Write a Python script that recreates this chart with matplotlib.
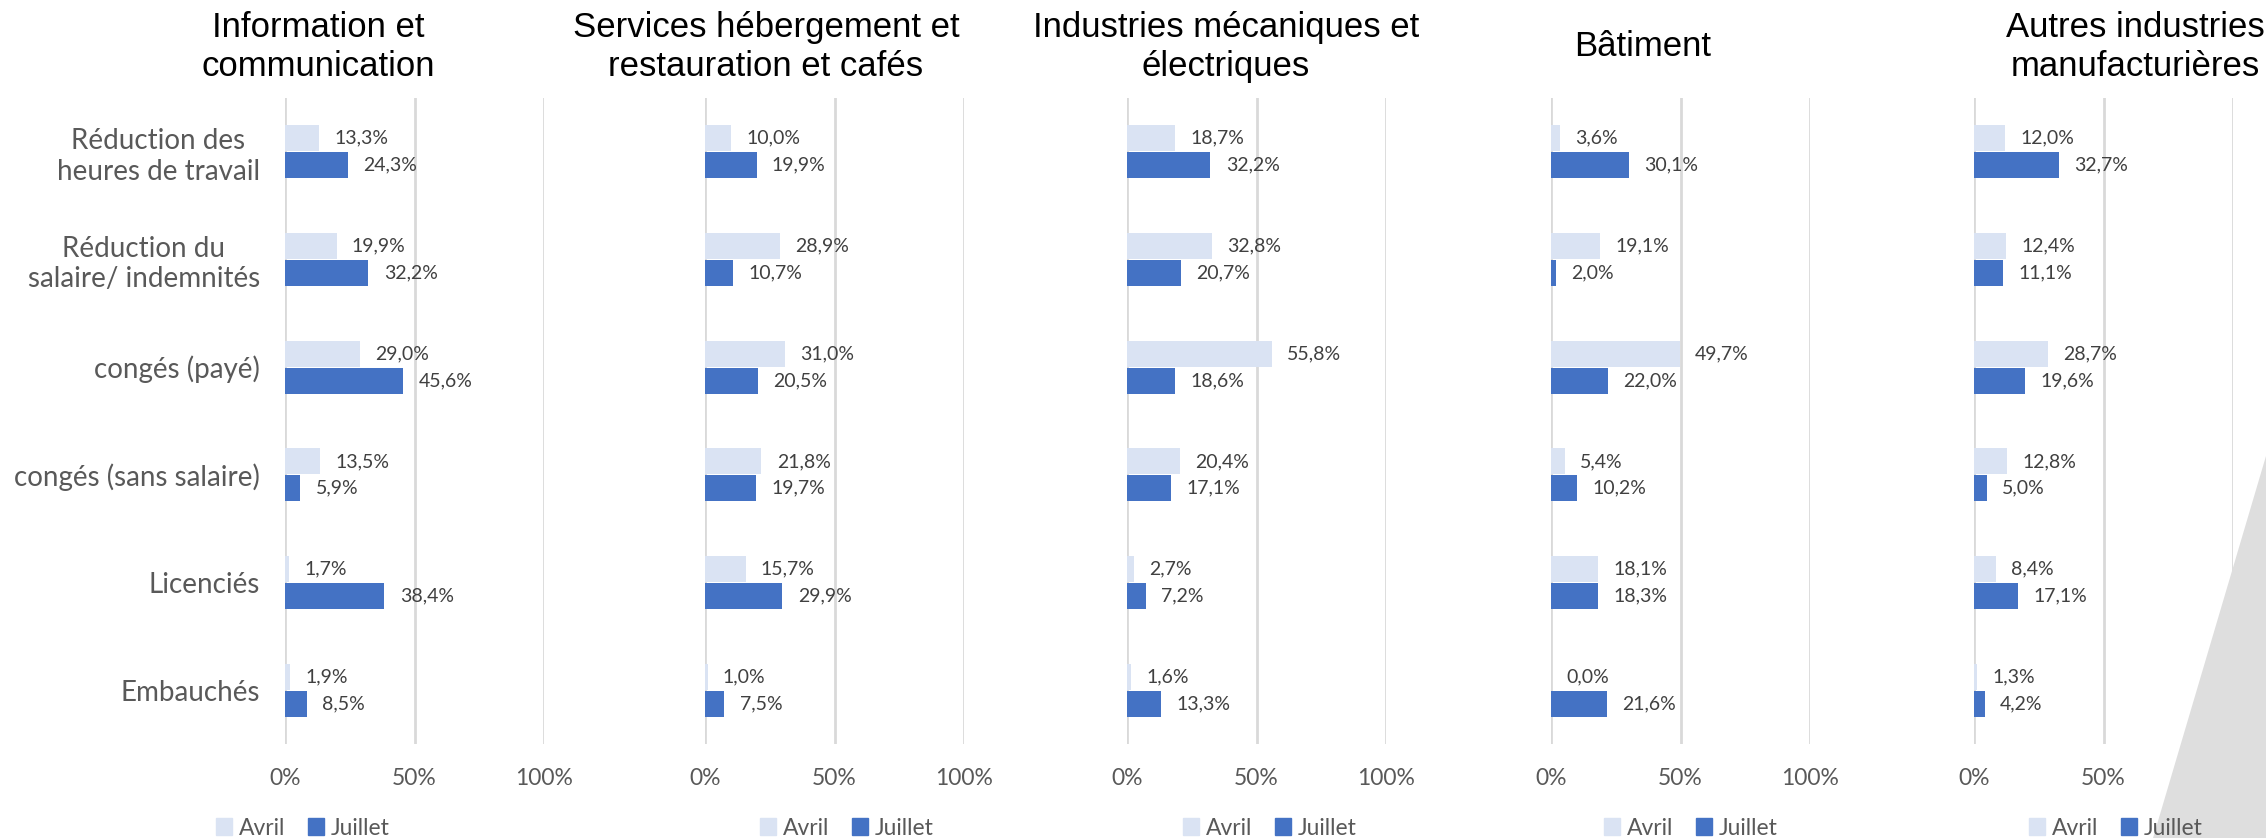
import matplotlib
matplotlib.use('Agg')
import matplotlib.pyplot as plt
from matplotlib.patches import Polygon, Patch

# données (en %)
categories = ['Réduction des\nheures de travail', 'Réduction du\nsalaire/ indemnités',
              'congés (payé)', 'congés (sans salaire)', 'Licenciés', 'Embauchés']
secteurs = ['Information et\ncommunication',
            'Services hébergement et\nrestauration et cafés',
            'Industries mécaniques et\nélectriques',
            'Bâtiment',
            'Autres industries\nmanufacturières']
avril = [
    [13.3, 19.9, 29.0, 13.5, 1.7, 1.9],
    [10.0, 28.9, 31.0, 21.8, 15.7, 1.0],
    [18.7, 32.8, 55.8, 20.4, 2.7, 1.6],
    [3.6, 19.1, 49.7, 5.4, 18.1, 0.0],
    [12.0, 12.4, 28.7, 12.8, 8.4, 1.3],
]
juillet = [
    [24.3, 32.2, 45.6, 5.9, 38.4, 8.5],
    [19.9, 10.7, 20.5, 19.7, 29.9, 7.5],
    [32.2, 20.7, 18.6, 17.1, 7.2, 13.3],
    [30.1, 2.0, 22.0, 10.2, 18.3, 21.6],
    [32.7, 11.1, 19.6, 5.0, 17.1, 4.2],
]

c_avril = '#DAE3F3'
c_juillet = '#4472C4'
gris = '#595959'
W, H = 2266, 838

fig = plt.figure(figsize=(W / 100, H / 100), dpi=100)

# triangle gris en bas à droite
tri = Polygon([[2266 / W, 1 - 456 / H], [2153 / W, 0], [1, 0]], closed=True,
              transform=fig.transFigure, facecolor='#DEDEDE', edgecolor='none', zorder=0)
fig.patches.append(tri)

x0 = [285, 705, 1127, 1551, 1974]
title_x = [318, 766, 1226, 1643, 2135]
legend_x = [303, 847, 1270, 1691, 2116]
y_top, y_bot = 98, 744
pos = list(range(len(categories)))

for i in range(5):
    ax = fig.add_axes([x0[i] / W, 1 - y_bot / H, 259 / W, (y_bot - y_top) / H])
    ax.set_facecolor('none')
    ya = [p - 0.125 for p in pos]
    yj = [p + 0.125 for p in pos]
    ax.barh(ya, [v / 100 for v in avril[i]], height=0.24, color=c_avril, zorder=3)
    ax.barh(yj, [v / 100 for v in juillet[i]], height=0.24, color=c_juillet, zorder=3)
    for y, v in zip(ya, avril[i]):
        ax.annotate(f'{v:.1f}%'.replace('.', ','), (v / 100, y), xytext=(11, 0),
                    textcoords='offset points', va='center', ha='left',
                    fontsize=14, color='#404040', family='Lato')
    for y, v in zip(yj, juillet[i]):
        ax.annotate(f'{v:.1f}%'.replace('.', ','), (v / 100, y), xytext=(11, 0),
                    textcoords='offset points', va='center', ha='left',
                    fontsize=14, color='#404040', family='Lato')

    ax.set_xlim(0, 1)
    ax.set_ylim(len(categories) - 0.5, -0.5)
    ax.set_xticks([0, 0.5, 1])
    ax.set_xticklabels(['0%', '50%', '100%'], family='Lato', fontsize=16.5, color=gris)
    ax.grid(axis='x', color='#D9D9D9', linewidth=2, zorder=0)
    for s in ax.spines.values():
        s.set_visible(False)
    ax.tick_params(length=0, axis='x', pad=17)
    ax.set_yticks(pos)
    if i == 0:
        ax.set_yticklabels(categories, family='Lato', fontsize=20, color=gris)
        for lab in ax.get_yticklabels():
            lab.set_multialignment('center')
        ax.tick_params(axis='y', length=0, pad=18)
    else:
        ax.set_yticklabels([])
        ax.tick_params(axis='y', length=0)

    fig.text(title_x[i] / W, 1 - 47 / H, secteurs[i], ha='center', va='center',
             fontsize=25, family='Liberation Sans', color='black', linespacing=1.2)

    handles = [Patch(color=c_avril, label='Avril'), Patch(color=c_juillet, label='Juillet')]
    leg = fig.legend(handles=handles, loc='center', ncol=2, frameon=False,
                     bbox_to_anchor=(legend_x[i] / W, 1 - 828 / H),
                     prop={'family': 'Lato', 'size': 16.5}, handlelength=0.7, handleheight=0.7,
                     handletextpad=0.3, columnspacing=1.0, labelcolor=gris)

fig.savefig('out.png', dpi=100)
